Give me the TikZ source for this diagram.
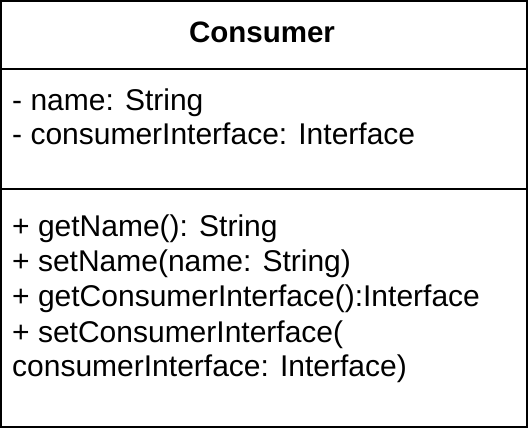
\documentclass[tikz,border=0pt]{standalone}
\usepackage{fontspec}
\setmainfont{Liberation Sans}
\begin{document}
\begin{tikzpicture}[x=1pt,y=-1pt,
  txt/.style={anchor=base west,inner sep=0pt,font=\fontsize{30}{34}\selectfont},
  ttl/.style={anchor=base,inner sep=0pt,font=\fontsize{29.5}{34}\selectfont\bfseries},
  frame/.style={draw=black,line width=2pt}]
\useasboundingbox (0,0) rectangle (530,430);
\draw[frame] (1,1) rectangle (527,427);
\draw[frame] (1,69) -- (527,69);
\draw[frame] (1,189) -- (527,189);
\node[ttl] (title) at (262,43) {Consumer};
\node[txt] (a1) at (12,111) {- name: String};
\node[txt] (a2) at (12,145) {- consumerInterface: Interface};
\node[txt] (m1) at (12,237) {+ getName(): String};
\node[txt] (m2) at (12,272) {+ setName(name: String)};
\node[txt] (m3) at (12,307) {+ getConsumerInterface():Interface};
\node[txt] (m4) at (12,342) {+ setConsumerInterface(};
\node[txt] (m5) at (12,376) {consumerInterface: Interface)};
\end{tikzpicture}
\end{document}
